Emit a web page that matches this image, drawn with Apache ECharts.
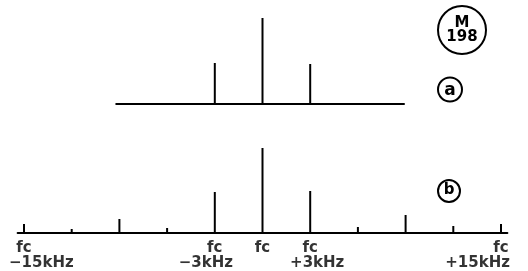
<!DOCTYPE html>
<html>
<head>
<meta charset="utf-8">
<script src="https://cdn.jsdelivr.net/npm/echarts@6/dist/echarts.min.js"></script>
<style>html,body{margin:0;padding:0;background:#fff;}#c{width:528px;height:271px;}</style>
</head>
<body>
<div id="c"></div>
<script>
// Spectrum (a): carrier and first sidebands (offsets in kHz, relative amplitude)
const freqA = [-3, 0, 3];
const ampA = [41, 86, 40];
// Spectrum (b): carrier and sidebands out to ±15 kHz
const freqB = [-15, -12, -9, -6, -3, 0, 3, 6, 9, 12, 15];
const ampB = [9, 4, 14, 5, 41, 85, 42, 6, 18, 7, 9];
// Tick labels
const fcTicks = [-15, -3, 0, 3, 15];
const khzTicks = [-15, -3, 3, 15];
const khzLabels = ['\u221215kHz', '\u22123kHz', '+3kHz', '+15kHz'];
const badgeTop = ['M', '198'];
const panelTags = ['a', 'b'];

const PX = 15.9, C0 = 262.5;
const axA = [-9.2, 8.9], axB = [-15.4, 15.4];
const font = '"DejaVu Sans", sans-serif';
const bfont = (s) => 'bold ' + s + 'px ' + font;

const chart = echarts.init(document.getElementById('c'), null, {renderer: 'canvas'});
const khzStyle = [
  {align: 'left', offset: [-15, 30.5]},
  {align: 'center', offset: [-9, 30.5]},
  {align: 'center', offset: [7, 30.5]},
  {align: 'right', offset: [9, 30.5]}
];
const xAxisBase = (idx, range) => ({
  type: 'value', gridIndex: idx, min: range[0], max: range[1],
  axisLine: {show: true, onZero: false, lineStyle: {color: '#000', width: 2}},
  axisTick: {show: false}, axisLabel: {show: false}, splitLine: {show: false}
});
const yAxisBase = (idx) => ({
  type: 'value', gridIndex: idx, min: 0, max: 100, show: false
});
const spike = (idx, f, a) => ({
  type: 'bar', xAxisIndex: idx, yAxisIndex: idx, barWidth: 2,
  itemStyle: {color: '#000'}, silent: true,
  data: f.map((v, i) => [v, a[i]])
});

chart.setOption({
  animation: false,
  backgroundColor: '#fff',
  grid: [
    {left: C0 + axA[0] * PX, width: (axA[1] - axA[0]) * PX, top: 4, height: 100},
    {left: C0 + axB[0] * PX, width: (axB[1] - axB[0]) * PX, top: 133, height: 100}
  ],
  xAxis: [xAxisBase(0, axA), xAxisBase(1, axB)],
  yAxis: [yAxisBase(0), yAxisBase(1)],
  series: [
    spike(0, freqA, ampA),
    spike(1, freqB, ampB),
    {
      type: 'scatter', xAxisIndex: 1, yAxisIndex: 1, symbolSize: 0, clip: false, silent: true,
      data: fcTicks.map(v => ({value: [v, 0]})),
      label: {show: true, position: 'inside', formatter: 'fc', offset: [0, 15],
        color: '#000', fontSize: 15, fontWeight: 'bold', fontFamily: font, verticalAlign: 'middle'}
    },
    {
      type: 'scatter', xAxisIndex: 1, yAxisIndex: 1, symbolSize: 0, clip: false, silent: true,
      data: khzTicks.map((v, i) => ({value: [v, 0], name: khzLabels[i],
        label: {align: khzStyle[i].align, offset: khzStyle[i].offset}})),
      label: {show: true, position: 'inside', formatter: p => p.name,
        color: '#000', fontSize: 15, fontWeight: 'bold', fontFamily: font, verticalAlign: 'middle'}
    }
  ],
  graphic: [
    {type: 'circle', shape: {cx: 462, cy: 30, r: 24}, style: {fill: 'none', stroke: '#000', lineWidth: 2}},
    {type: 'text', x: 462, y: 23, style: {text: badgeTop[0], fill: '#000', font: bfont(15), textAlign: 'center', textVerticalAlign: 'middle'}},
    {type: 'text', x: 462, y: 37.5, style: {text: badgeTop[1], fill: '#000', font: bfont(15), textAlign: 'center', textVerticalAlign: 'middle'}},
    {type: 'circle', shape: {cx: 450, cy: 89.5, r: 12}, style: {fill: 'none', stroke: '#000', lineWidth: 2}},
    {type: 'text', x: 450, y: 90.5, style: {text: panelTags[0], fill: '#000', font: bfont(17), textAlign: 'center', textVerticalAlign: 'middle'}},
    {type: 'circle', shape: {cx: 449, cy: 191, r: 11}, style: {fill: 'none', stroke: '#000', lineWidth: 2}},
    {type: 'text', x: 449, y: 190.5, style: {text: panelTags[1], fill: '#000', font: bfont(15), textAlign: 'center', textVerticalAlign: 'middle'}}
  ]
});
</script>
</body>
</html>
